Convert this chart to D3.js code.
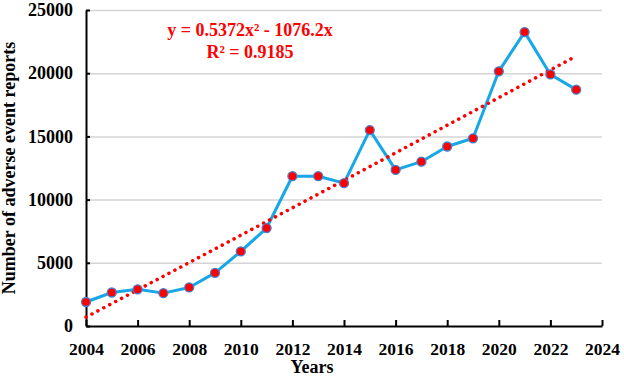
<!DOCTYPE html>
<html>
<head>
<meta charset="utf-8">
<script src="https://cdn.jsdelivr.net/npm/d3@7"></script>
<style>
  body { margin: 0; background: #fff; }
  text { font-family: "Liberation Serif", "Times New Roman", serif; font-weight: bold; }
</style>
</head>
<body>
<svg id="chart"></svg>
<script>
// data
const years = [2004, 2005, 2006, 2007, 2008, 2009, 2010, 2011, 2012, 2013,
               2014, 2015, 2016, 2017, 2018, 2019, 2020, 2021, 2022, 2023];
const reports = [1900, 2650, 2900, 2600, 3050, 4200, 5900, 7750, 11850, 11850,
                 11300, 15500, 12350, 13000, 14200, 14850, 20150, 23250, 19900, 18700];
// trendline coefficients as printed on the chart (y = a*x^2 + b*x)
const trendCoef = [0.5372, -1076.2];
const trendLabels = ["y = 0.5372x\u00B2 - 1076.2x", "R\u00B2 = 0.9185"];
const xTicks = [2004, 2006, 2008, 2010, 2012, 2014, 2016, 2018, 2020, 2022, 2024];
const yTicks = [0, 5000, 10000, 15000, 20000, 25000];

const width = 624, height = 378;
const margin = {top: 10, right: 22, bottom: 52, left: 86};

const svg = d3.select('#chart')
    .attr('width', width)
    .attr('height', height);

const x = d3.scaleLinear()
    .domain([2004, 2024])
    .range([margin.left, width - margin.right]);

const y = d3.scaleLinear()
    .domain([0, 25000])
    .range([height - margin.bottom, margin.top]);

// gridlines
svg.append('g')
    .attr('class', 'grid')
    .attr('transform', `translate(${margin.left},0)`)
    .call(d3.axisLeft(y).tickValues(yTicks.slice(1)).tickSize(-(x.range()[1] - margin.left)).tickFormat(''))
    .call(g => g.select('.domain').remove())
    .call(g => g.selectAll('line').attr('stroke', '#d4d4d4').attr('stroke-width', 1.5));

// x axis
svg.append('g')
    .attr('transform', `translate(0,${y(0)})`)
    .call(d3.axisBottom(x).tickValues(xTicks).tickSize(-6).tickPadding(17).tickFormat(d3.format('d')).tickSizeOuter(0))
    .call(g => g.select('.domain').attr('stroke-width', 2))
    .call(g => g.selectAll('line').attr('stroke-width', 2))
    .call(g => g.selectAll('text').attr('font-size', 17.5).attr('fill', '#000'));

// y axis
svg.append('g')
    .attr('transform', `translate(${margin.left},0)`)
    .call(d3.axisLeft(y).tickValues(yTicks).tickSize(-4).tickPadding(13).tickFormat(d3.format('d')).tickSizeOuter(0))
    .call(g => g.select('.domain').attr('stroke-width', 2))
    .call(g => g.selectAll('line').attr('stroke-width', 2))
    .call(g => g.selectAll('text').attr('font-size', 18).attr('fill', '#000'));

// data line
const line = d3.line()
    .x((d, i) => x(years[i]))
    .y(d => y(d));

svg.append('path')
    .datum(reports)
    .attr('fill', 'none')
    .attr('stroke', '#17a6e6')
    .attr('stroke-width', 3)
    .attr('stroke-linejoin', 'round')
    .attr('d', line);

// polynomial trendline
const trendLine = d3.line()
    .x(d => x(d))
    .y(d => y(trendCoef[0] * d * d + trendCoef[1] * d))
    .curve(d3.curveMonotoneX);

svg.append('path')
    .datum(years)
    .attr('fill', 'none')
    .attr('stroke', '#ff0000')
    .attr('stroke-width', 3.5)
    .attr('stroke-linecap', 'round')
    .attr('stroke-dasharray', '0.1 6.6')
    .attr('d', trendLine);

// markers
svg.selectAll('.dot')
    .data(reports)
    .join('circle')
    .attr('class', 'dot')
    .attr('cx', (d, i) => x(years[i]))
    .attr('cy', d => y(d))
    .attr('r', 4.5)
    .attr('fill', '#ff0000')
    .attr('stroke', '#4a7fd0')
    .attr('stroke-width', 1.3);

// equation
svg.selectAll('.eq')
    .data(trendLabels)
    .join('text')
    .attr('class', 'eq')
    .attr('x', 250)
    .attr('y', (d, i) => 36 + i * 22)
    .attr('text-anchor', 'middle')
    .attr('font-size', 18)
    .attr('fill', '#ff0000')
    .text(d => d);

// axis titles
svg.append('text')
    .attr('x', 312)
    .attr('y', 373)
    .attr('text-anchor', 'middle')
    .attr('font-size', 18)
    .text('Years');

svg.append('text')
    .attr('transform', `translate(15,${168}) rotate(-90)`)
    .attr('text-anchor', 'middle')
    .attr('font-size', 18)
    .text('Number of adverse event reports');
</script>
</body>
</html>
